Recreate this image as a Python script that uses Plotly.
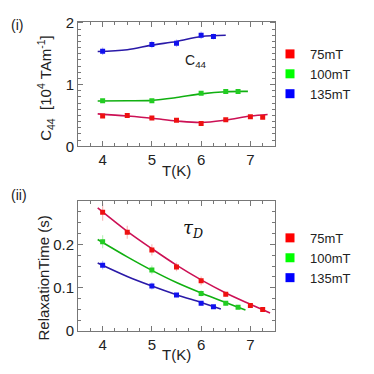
import plotly.graph_objects as go

# ---- data ----
T75 = [4, 4.5, 5, 5.5, 6, 6.5, 7, 7.25]
T100 = [4, 5, 6, 6.5, 6.75]
T135 = [4, 5, 5.5, 6, 6.25]

# (i) C44 [10^4 TAm^-1]
c44_75 = [0.49, 0.50, 0.46, 0.42, 0.37, 0.43, 0.48, 0.47]
c44_75_err = [0.02, 0.02, 0.02, 0.02, 0.02, 0.02, 0.02, 0.03]
c44_100 = [0.74, 0.74, 0.86, 0.89, 0.89]
c44_100_err = [0.02, 0.02, 0.02, 0.02, 0.02]
c44_135 = [1.54, 1.65, 1.67, 1.80, 1.78]
c44_135_err = [0.06, 0.06, 0.06, 0.06, 0.05]

# fitted curves (i)
Tfit75 = [3.9, 4.5, 5.0, 5.5, 6.0, 6.5, 7.0, 7.35]
c44fit75 = [0.525, 0.49, 0.455, 0.41, 0.385, 0.425, 0.49, 0.515]
Tfit100 = [3.9, 4.5, 5.0, 5.5, 6.0, 6.5, 6.95]
c44fit100 = [0.735, 0.738, 0.745, 0.79, 0.85, 0.885, 0.89]
Tfit135 = [3.9, 4.5, 5.0, 5.5, 6.0, 6.5]
c44fit135 = [1.536, 1.565, 1.64, 1.70, 1.78, 1.80]

# (ii) relaxation time (s)
tau75 = [0.274, 0.228, 0.187, 0.148, 0.116, 0.085, 0.059, 0.050]
tau75_err = [0.02, 0.015, 0.013, 0.01, 0.01, 0.006, 0.005, 0.005]
tau100 = [0.206, 0.141, 0.087, 0.064, 0.055]
tau100_err = [0.015, 0.01, 0.007, 0.005, 0.004]
tau135 = [0.152, 0.104, 0.083, 0.064, 0.056]
tau135_err = [0.01, 0.008, 0.005, 0.005, 0.004]

# fitted curves (ii)
Tfit75b = [3.9, 4.5, 5.0, 5.5, 6.0, 6.5, 7.0, 7.4]
taufit75 = [0.284, 0.230, 0.190, 0.152, 0.118, 0.088, 0.062, 0.042]
Tfit100b = [3.9, 4.5, 5.0, 5.5, 6.0, 6.5, 6.9]
taufit100 = [0.211, 0.171, 0.140, 0.112, 0.088, 0.066, 0.049]
Tfit135b = [3.9, 4.5, 5.0, 5.5, 6.0, 6.4]
taufit135 = [0.157, 0.126, 0.104, 0.084, 0.066, 0.051]

labels = ["75mT", "100mT", "135mT"]
pt_colors = ["#ee1111", "#22cc22", "#1111ee"]
err_colors = ["rgba(240,60,60,0.35)", "rgba(60,220,60,0.35)", "rgba(60,60,240,0.35)"]
fit_colors = ["#cc1155", "#11b011", "#2a1aa8"]
leg_colors = ["#ff0000", "#00ff00", "#0000ff"]

FONT = "Liberation Sans, Arial, sans-serif"

# page has an 8px body margin, so the figure is 358px and sits at (8, 8)
W = 358
OFF = 8


def fx(px):
    return (px - OFF) / W


def fy(py):
    return 1 - (py - OFF) / W


fig = go.Figure()

top = [(T75, c44_75, c44_75_err, Tfit75, c44fit75),
       (T100, c44_100, c44_100_err, Tfit100, c44fit100),
       (T135, c44_135, c44_135_err, Tfit135, c44fit135)]
bot = [(T75, tau75, tau75_err, Tfit75b, taufit75),
       (T100, tau100, tau100_err, Tfit100b, taufit100),
       (T135, tau135, tau135_err, Tfit135b, taufit135)]

for panel, (xa, ya, leg) in zip([top, bot], [("x", "y", "legend"), ("x2", "y2", "legend2")]):
    for i, (tx, vy, err, fxs, fys) in enumerate(panel):
        fig.add_trace(go.Scatter(x=fxs, y=fys, mode="lines", line=dict(color=fit_colors[i], width=1.6, shape="spline"),
                                 xaxis=xa, yaxis=ya, showlegend=False, hoverinfo="skip"))
        fig.add_trace(go.Scatter(x=tx, y=vy, mode="markers",
                                 marker=dict(symbol="square", size=5, color=pt_colors[i]),
                                 error_y=dict(type="data", array=err, color=err_colors[i], thickness=1.2, width=0),
                                 xaxis=xa, yaxis=ya, showlegend=False))
    for i in range(3):
        fig.add_trace(go.Scatter(x=[None], y=[None], mode="markers", name=labels[i],
                                 marker=dict(symbol="square", size=9, color=leg_colors[i]),
                                 xaxis=xa, yaxis=ya, legend=leg))

axis_common = dict(showline=True, linecolor="#777", linewidth=1, mirror="ticks", ticks="inside",
                   ticklen=5, tickcolor="#777", showgrid=False, zeroline=False, ticklabeloverflow="allow",
                   tickfont=dict(family=FONT, size=15, color="#222"))

xdom = [fx(78), fx(275)]
fig.update_layout(
    width=W, height=W, margin=dict(l=0, r=0, t=0, b=0),
    paper_bgcolor="white", plot_bgcolor="white",
    font=dict(family=FONT, color="#222"),
    xaxis=dict(axis_common, domain=xdom, anchor="y", range=[3.5, 7.5], tickvals=[4, 5, 6, 7],
               minor=dict(dtick=0.25, ticks="inside", ticklen=3, tickcolor="#777")),
    yaxis=dict(axis_common, domain=[fy(145), fy(15)], anchor="x", range=[0, 2.02], tickvals=[0, 1, 2],
               minor=dict(dtick=0.1, ticks="inside", ticklen=3, tickcolor="#777")),
    xaxis2=dict(axis_common, domain=xdom, anchor="y2", range=[3.5, 7.5], tickvals=[4, 5, 6, 7],
                minor=dict(dtick=0.25, ticks="inside", ticklen=3, tickcolor="#777")),
    yaxis2=dict(axis_common, domain=[fy(338), fy(202)], anchor="x2", range=[0, 0.3], tickvals=[0, 0.1, 0.2],
                minor=dict(dtick=0.025, ticks="inside", ticklen=3, tickcolor="#777")),
    legend=dict(x=fx(270), y=fy(33), xanchor="left", yanchor="top", bgcolor="rgba(0,0,0,0)",
                font=dict(family=FONT, size=13, color="#222")),
    legend2=dict(x=fx(270), y=fy(225), xanchor="left", yanchor="top", bgcolor="rgba(0,0,0,0)",
                 font=dict(family=FONT, size=13, color="#222")),
)

ann = dict(xref="paper", yref="paper", showarrow=False, xanchor="center", yanchor="middle",
           font=dict(family=FONT, size=15, color="#222"))
fig.add_annotation(ann, x=fx(17), y=fy(18), text="(i)", font=dict(family=FONT, size=14, color="#222"))
fig.add_annotation(ann, x=fx(19), y=fy(196), text="(ii)", font=dict(family=FONT, size=14, color="#222"))
fig.add_annotation(ann, x=fx(46), y=fy(84), textangle=-90,
                   text="C<sub>44</sub>  [10<sup>4</sup> TAm<sup>-1</sup>]")
fig.add_annotation(ann, x=fx(43), y=fy(283), textangle=-90, text="RelaxationTime (s)")
fig.add_annotation(ann, x=fx(176), y=fy(170), text="T(K)")
fig.add_annotation(ann, x=fx(176), y=fy(362), text="T(K)")
fig.add_annotation(ann, x=fx(196), y=fy(56), text="C<sub>44</sub>", font=dict(family=FONT, size=14, color="#222"))
fig.add_annotation(ann, x=fx(193), y=fy(231), text="<i>τ</i><sub><i>D</i></sub>",
                   font=dict(family="DejaVu Serif, serif", size=18, color="#111"))

fig.write_html("out.html")
